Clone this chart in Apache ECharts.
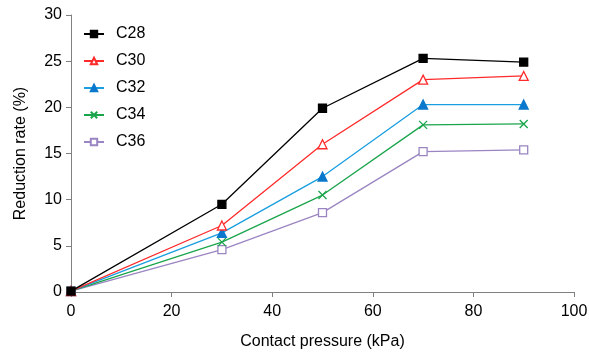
<!DOCTYPE html>
<html>
<head>
<meta charset="utf-8">
<script src="https://cdn.jsdelivr.net/npm/echarts@6/dist/echarts.min.js"></script>
<style>html,body{margin:0;padding:0;background:#fff}#c{width:589px;height:352px}</style>
</head>
<body>
<div id="c"></div>
<script>
var pressures = [0, 30, 50, 70, 90];
var seriesNames = ['C28', 'C30', 'C32', 'C34', 'C36'];
var c28 = [0.1, 9.5, 19.9, 25.3, 24.9];
var c30 = [0.1, 7.2, 16.0, 23.0, 23.4];
var c32 = [0.1, 6.4, 12.5, 20.3, 20.3];
var c34 = [0.1, 5.4, 10.5, 18.1, 18.2];
var c36 = [0.1, 4.6, 8.6, 15.2, 15.4];
var xTicks = [0, 20, 40, 60, 80, 100];
var yTicks = [0, 5, 10, 15, 20, 25, 30];

var values = [c28, c30, c32, c34, c36];
var styles = [
  {line: '#000000', fill: '#000000', border: '#000000', symbol: 'rect', size: 8},
  {line: '#ff2b2b', fill: '#ffffff', border: '#ff2b2b', symbol: 'triangle', size: 9},
  {line: '#1a9ee0', fill: '#0a78cc', border: '#0a78cc', symbol: 'triangle', size: 9},
  {line: '#1aa54c', fill: '#1aa54c', border: '#1aa54c', symbol: 'path://M0,0L10,10M10,0L0,10', size: 8},
  {line: '#9a85c2', fill: '#ffffff', border: '#9a85c2', symbol: 'rect', size: 8}
];
var font = 'Liberation Sans, Arial, sans-serif';
var chart = echarts.init(document.getElementById('c'));
chart.setOption({
  animation: false,
  backgroundColor: '#fff',
  grid: {left: 71, right: 15, top: 15, bottom: 60, containLabel: false, outerBoundsMode: 'none'},
  legend: {
    orient: 'vertical', left: 78, top: 21, itemGap: 11, itemWidth: 20, itemHeight: 8,
    textStyle: {fontFamily: font, fontSize: 16, color: '#000', padding: [0, 0, 0, 7]},
    data: seriesNames
  },
  xAxis: {
    type: 'value', min: 0, max: 100, interval: 20,
    name: 'Contact pressure (kPa)', nameLocation: 'middle', nameGap: 42,
    nameTextStyle: {fontFamily: font, fontSize: 16, color: '#000'},
    axisLine: {show: true, onZero: false, lineStyle: {color: '#808080', width: 1}},
    axisTick: {show: true, inside: false, length: 5, lineStyle: {color: '#808080'}},
    axisLabel: {fontFamily: font, fontSize: 16, color: '#000', margin: 12,
      formatter: function (v) { return xTicks.indexOf(v) >= 0 ? String(v) : ''; }},
    splitLine: {show: false}
  },
  yAxis: {
    type: 'value', min: 0, max: 30, interval: 5,
    name: 'Reduction rate (%)', nameLocation: 'middle', nameGap: 42, nameRotate: 90,
    nameTextStyle: {fontFamily: font, fontSize: 16, color: '#000'},
    axisLine: {show: true, onZero: false, lineStyle: {color: '#808080', width: 1}},
    axisTick: {show: true, inside: false, length: 5, lineStyle: {color: '#808080'}},
    axisLabel: {fontFamily: font, fontSize: 16, color: '#000', margin: 9,
      formatter: function (v) { return yTicks.indexOf(v) >= 0 ? String(v) : ''; }},
    splitLine: {show: false}
  },
  series: seriesNames.map(function (n, i) {
    var s = styles[i];
    return {
      name: n, type: 'line',
      data: pressures.map(function (p, j) { return [p, values[i][j]]; }),
      symbol: s.symbol, symbolSize: s.size, showAllSymbol: true,
      lineStyle: {color: s.line, width: 1.3},
      itemStyle: {color: s.fill, borderColor: s.border, borderWidth: 1.3},
      z: 10 - i
    };
  })
});
</script>
</body>
</html>
